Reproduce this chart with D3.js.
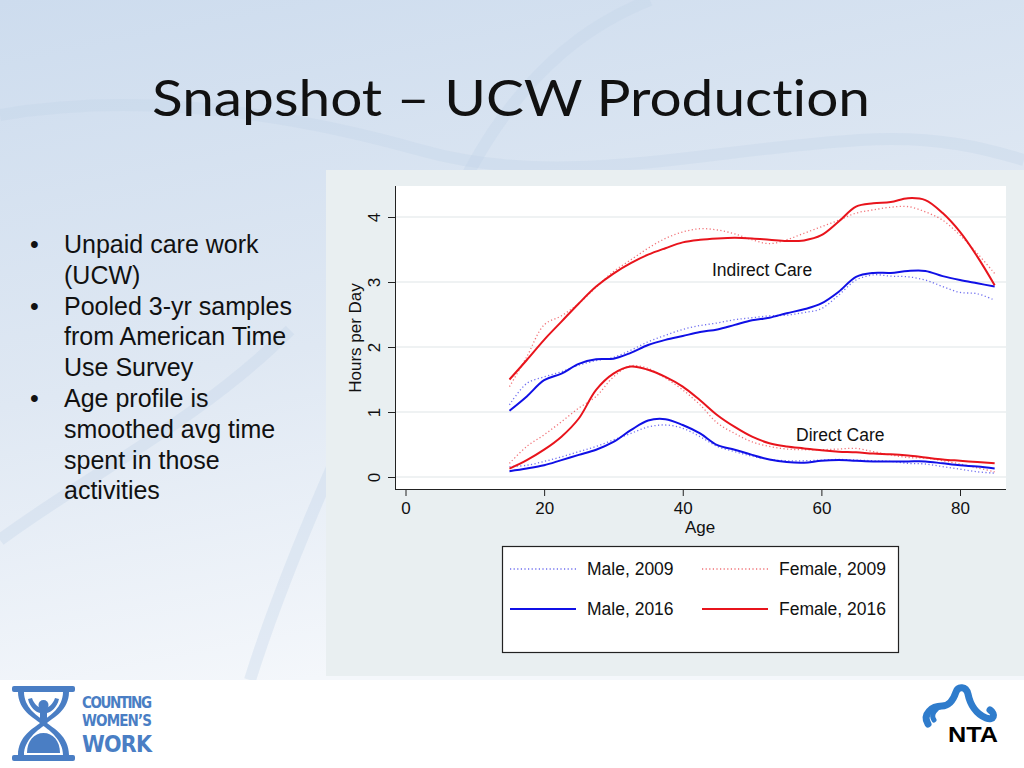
<!DOCTYPE html>
<html>
<head>
<meta charset="utf-8">
<script src="https://cdn.jsdelivr.net/npm/d3@7"></script>
<style>
  html, body { margin: 0; padding: 0; background: #fff; }
  svg { display: block; }
</style>
</head>
<body>
<svg id="slide" width="1024" height="768"></svg>
<script>
// Ages shared by every series (2.5-year steps)
const ages = [15, 17.5, 20, 22.5, 25, 27.5, 30, 32.5, 35, 37.5, 40, 42.5, 45, 47.5,
  50, 52.5, 55, 57.5, 60, 62.5, 65, 67.5, 70, 72.5, 75, 77.5, 80, 82.5, 85];

// Indirect care, hours per day
const femaleIndirect2016 = [1.50, 1.80, 2.11, 2.39, 2.67, 2.93, 3.13, 3.29, 3.42, 3.52, 3.61, 3.65, 3.67, 3.68,
  3.67, 3.65, 3.63, 3.64, 3.72, 3.93, 4.16, 4.21, 4.23, 4.29, 4.26, 4.06, 3.77, 3.39, 2.95];
const femaleIndirect2009 = [1.39, 1.85, 2.34, 2.48, 2.67, 2.92, 3.16, 3.34, 3.52, 3.67, 3.77, 3.82, 3.80, 3.74,
  3.65, 3.59, 3.65, 3.75, 3.85, 3.95, 4.06, 4.11, 4.15, 4.16, 4.08, 3.95, 3.72, 3.44, 3.13];
const maleIndirect2016 = [1.02, 1.24, 1.49, 1.59, 1.74, 1.81, 1.82, 1.91, 2.03, 2.11, 2.17, 2.23, 2.27, 2.34,
  2.41, 2.45, 2.52, 2.58, 2.67, 2.85, 3.08, 3.14, 3.14, 3.17, 3.17, 3.09, 3.03, 2.98, 2.93];
const maleIndirect2009 = [1.11, 1.44, 1.54, 1.62, 1.72, 1.79, 1.84, 1.95, 2.08, 2.18, 2.27, 2.33, 2.37, 2.42,
  2.45, 2.48, 2.49, 2.53, 2.59, 2.80, 3.03, 3.11, 3.09, 3.08, 3.03, 2.93, 2.84, 2.82, 2.72];

// Direct care, hours per day
const femaleDirect2016 = [0.13, 0.26, 0.42, 0.62, 0.90, 1.34, 1.59, 1.70, 1.65, 1.54, 1.39, 1.18, 0.95, 0.77,
  0.62, 0.52, 0.47, 0.44, 0.41, 0.39, 0.38, 0.36, 0.35, 0.33, 0.30, 0.27, 0.25, 0.23, 0.21];
const femaleDirect2009 = [0.21, 0.47, 0.65, 0.85, 1.06, 1.24, 1.54, 1.71, 1.67, 1.52, 1.34, 1.11, 0.83, 0.67,
  0.54, 0.47, 0.43, 0.42, 0.42, 0.43, 0.44, 0.39, 0.34, 0.30, 0.29, 0.25, 0.20, 0.14, 0.08];
const maleDirect2016 = [0.09, 0.13, 0.18, 0.26, 0.34, 0.42, 0.54, 0.72, 0.87, 0.89, 0.80, 0.67, 0.49, 0.42,
  0.34, 0.27, 0.23, 0.22, 0.25, 0.26, 0.25, 0.24, 0.24, 0.24, 0.24, 0.21, 0.18, 0.16, 0.13];
const maleDirect2009 = [0.16, 0.18, 0.24, 0.31, 0.39, 0.47, 0.57, 0.67, 0.77, 0.80, 0.75, 0.62, 0.47, 0.39,
  0.32, 0.27, 0.25, 0.25, 0.26, 0.27, 0.26, 0.25, 0.24, 0.21, 0.20, 0.16, 0.12, 0.08, 0.06];

const xTicks = [0, 20, 40, 60, 80];
const yTicks = [0, 1, 2, 3, 4];
const bullets = [
  ['Unpaid care work', '(UCW)'],
  ['Pooled 3-yr samples', 'from American Time', 'Use Survey'],
  ['Age profile is', 'smoothed avg time', 'spent in those', 'activities']
];

const MALE_COLOR = '#1010e6';
const FEMALE_COLOR = '#e8141c';
const CHART_FONT = '"Liberation Sans", Arial, sans-serif';

const series = [
  { name: 'Male, 2009', color: MALE_COLOR, dotted: true, sets: [maleIndirect2009, maleDirect2009] },
  { name: 'Female, 2009', color: FEMALE_COLOR, dotted: true, sets: [femaleIndirect2009, femaleDirect2009] },
  { name: 'Male, 2016', color: MALE_COLOR, dotted: false, sets: [maleIndirect2016, maleDirect2016] },
  { name: 'Female, 2016', color: FEMALE_COLOR, dotted: false, sets: [femaleIndirect2016, femaleDirect2016] }
];

const svg = d3.select('#slide');

// Slide background
const defs = svg.append('defs');
const bg = defs.append('linearGradient')
  .attr('id', 'bg').attr('x1', 0).attr('y1', 0).attr('x2', 0.3).attr('y2', 1);
bg.append('stop').attr('offset', '0%').attr('stop-color', '#cddcee');
bg.append('stop').attr('offset', '55%').attr('stop-color', '#dfe8f3');
bg.append('stop').attr('offset', '100%').attr('stop-color', '#f4f7fb');

svg.append('rect').attr('width', 1024).attr('height', 680).attr('fill', 'url(#bg)');

// faint swooshes in the backdrop
const swooshes = [
  'M0,115 C120,95 260,105 420,150 C560,190 700,150 860,140 C940,135 990,150 1024,160',
  'M250,680 C300,520 400,320 470,170 C530,60 600,20 650,0',
  'M0,540 C80,480 200,420 290,330'
];
svg.append('g')
  .selectAll('path')
  .data(swooshes)
  .join('path')
    .attr('d', d => d)
    .attr('fill', 'none')
    .attr('stroke', '#c4d5e8')
    .attr('stroke-width', 12)
    .attr('opacity', 0.35);

svg.append('rect').attr('y', 680).attr('width', 1024).attr('height', 88).attr('fill', '#ffffff');

// Title
svg.append('text')
  .attr('x', 511).attr('y', 116)
  .attr('text-anchor', 'middle')
  .attr('font-family', 'Lato, "Open Sans", sans-serif')
  .attr('font-size', 50)
  .attr('fill', '#111')
  .attr('textLength', 718)
  .attr('lengthAdjust', 'spacingAndGlyphs')
  .style('font-variant-ligatures', 'none')
  .text('Snapshot \u2013 UCW Production');

// Bullets
const bulletG = svg.append('g')
  .attr('font-family', CHART_FONT)
  .attr('font-size', 25)
  .attr('fill', '#111');
let line = 0;
bullets.forEach((rows) => {
  bulletG.append('text')
    .attr('x', 30).attr('y', 253 + line * 30.8)
    .text('\u2022');
  rows.forEach((row) => {
    bulletG.append('text')
      .attr('x', 64).attr('y', 253 + line * 30.8)
      .text(row);
    line += 1;
  });
});

// Chart panel
svg.append('rect')
  .attr('x', 326).attr('y', 170)
  .attr('width', 698).attr('height', 506)
  .attr('fill', '#e9eff1');

const plot = { left: 395, right: 1006, top: 186, bottom: 489 };
svg.append('rect')
  .attr('x', plot.left).attr('y', plot.top)
  .attr('width', plot.right - plot.left).attr('height', plot.bottom - plot.top)
  .attr('fill', '#ffffff');

const x = d3.scaleLinear().domain([0, 80]).range([405.5, 960]);
const y = d3.scaleLinear().domain([0, 4]).range([477, 217]);

// Gridlines
svg.append('g')
  .selectAll('line')
  .data(yTicks)
  .join('line')
    .attr('x1', plot.left).attr('x2', plot.right)
    .attr('y1', d => y(d)).attr('y2', d => y(d))
    .attr('stroke', '#eaeeef')
    .attr('stroke-width', 1.5);

// Y axis
const yAxis = svg.append('g')
  .attr('transform', `translate(${plot.left},0)`)
  .call(d3.axisLeft(y).tickValues(yTicks).tickFormat(d3.format('d')).tickSize(7).tickSizeOuter(0));
yAxis.select('.domain').attr('d', `M0.5,${plot.top}V${plot.bottom}`).attr('stroke', '#222');
yAxis.selectAll('.tick line').attr('stroke', '#222');
yAxis.selectAll('.tick text')
  .attr('font-family', CHART_FONT)
  .attr('font-size', 17)
  .attr('fill', '#111')
  .attr('text-anchor', 'middle')
  .attr('dy', null)
  .attr('x', 0)
  .attr('transform', 'translate(-21,0) rotate(-90)')
  .attr('y', 6);

// X axis
const xAxis = svg.append('g')
  .attr('transform', `translate(0,${plot.bottom})`)
  .call(d3.axisBottom(x).tickValues(xTicks).tickSize(7).tickPadding(6).tickSizeOuter(0));
xAxis.select('.domain').attr('d', `M${plot.left},0.5H${plot.right}`).attr('stroke', '#222');
xAxis.selectAll('.tick line').attr('stroke', '#222');
xAxis.selectAll('.tick text')
  .attr('font-family', CHART_FONT)
  .attr('font-size', 17)
  .attr('fill', '#111');

// Axis titles
svg.append('text')
  .attr('transform', 'translate(361,338) rotate(-90)')
  .attr('text-anchor', 'middle')
  .attr('font-family', CHART_FONT)
  .attr('font-size', 17)
  .attr('fill', '#111')
  .text('Hours per Day');

svg.append('text')
  .attr('x', 700).attr('y', 533)
  .attr('text-anchor', 'middle')
  .attr('font-family', CHART_FONT)
  .attr('font-size', 17)
  .attr('fill', '#111')
  .text('Age');

// Lines
const lineGen = d3.line()
  .x(d => x(d[0]))
  .y(d => y(d[1]))
  .curve(d3.curveCatmullRom.alpha(0.5));

const lineG = svg.append('g').attr('fill', 'none');
// dotted series first so the solid ones sit on top
series.forEach((s) => {
  s.sets.forEach((values) => {
    lineG.append('path')
      .datum(ages.map((a, i) => [a, values[i]]))
      .attr('d', lineGen)
      .attr('stroke', s.color)
      .attr('stroke-width', s.dotted ? 1.3 : 2)
      .attr('stroke-dasharray', s.dotted ? '1.2,2.4' : null)
      .attr('opacity', s.dotted ? 0.6 : 1);
  });
});

// In-plot labels
const labelG = svg.append('g')
  .attr('font-family', CHART_FONT)
  .attr('font-size', 17.5)
  .attr('fill', '#111');
labelG.append('text').attr('x', 712).attr('y', 276).text('Indirect Care');
labelG.append('text').attr('x', 796).attr('y', 441).text('Direct Care');

// Legend
svg.append('rect')
  .attr('x', 502.5).attr('y', 546.5)
  .attr('width', 396).attr('height', 106)
  .attr('fill', '#ffffff')
  .attr('stroke', '#222')
  .attr('stroke-width', 1.2);

const legendPos = [[510, 569], [702, 569], [510, 609], [702, 609]];
const legend = svg.append('g')
  .selectAll('g')
  .data(series)
  .join('g')
    .attr('transform', (d, i) => `translate(${legendPos[i][0]},${legendPos[i][1]})`);
legend.append('line')
  .attr('x1', 0).attr('x2', 66)
  .attr('stroke', d => d.color)
  .attr('stroke-width', d => (d.dotted ? 1.3 : 2))
  .attr('stroke-dasharray', d => (d.dotted ? '1.2,2.4' : null))
  .attr('opacity', d => (d.dotted ? 0.6 : 1));
legend.append('text')
  .attr('x', 77).attr('y', 6)
  .attr('font-family', CHART_FONT)
  .attr('font-size', 17.5)
  .attr('fill', '#111')
  .text(d => d.name);

// Counting Women's Work logo
const cww = svg.append('g').attr('transform', 'translate(12,686)').attr('fill', '#4a7ec4');
cww.append('rect').attr('x', 0).attr('y', 0).attr('width', 63).attr('height', 6).attr('rx', 2);
cww.append('rect').attr('x', 0).attr('y', 69).attr('width', 63).attr('height', 6).attr('rx', 2);
cww.append('path')
  .attr('d', 'M6,6 C6,24 22,32 28,37 C22,42 6,50 6,69 L12,69 C12,54 26,44 31.5,40 C37,44 51,54 51,69 L57,69 C57,50 41,42 35,37 C41,32 57,24 57,6 L51,6 C51,21 38,30 31.5,34 C25,30 12,21 12,6 Z');
cww.append('path')
  .attr('d', 'M15,67 C15,55 22,47 31.5,47 C41,47 48,55 48,67 Z');
cww.append('circle').attr('cx', 31.5).attr('cy', 19).attr('r', 5);
cww.append('path')
  .attr('d', 'M16,13 C18,22 24,26 28,27 L28,34 L35,34 L35,27 C39,26 45,22 47,13 L43,12 C41,18 37,22 31.5,22 C26,22 22,18 20,12 Z');
const cwwText = svg.append('g')
  .attr('font-family', '"DejaVu Sans Condensed", "Liberation Sans Narrow", sans-serif')
  .attr('font-weight', 'bold')
  .attr('fill', '#4a7ec4');
cwwText.append('text').attr('x', 82).attr('y', 708).attr('font-size', 15).attr('textLength', 70).text('COUNTING');
cwwText.append('text').attr('x', 82).attr('y', 726).attr('font-size', 15).attr('textLength', 70).text('WOMEN\u2019S');
cwwText.append('text').attr('x', 82).attr('y', 752).attr('font-size', 23).attr('textLength', 70).text('WORK');

// NTA logo
const nta = svg.append('g').attr('transform', 'translate(920,684)');
nta.append('path')
  .attr('d', 'M8,40 C2,30 12,22 22,22 C30,22 34,14 36,8 C38,2 46,2 48,10 C50,20 56,30 66,34 C74,37 76,30 70,26')
  .attr('fill', 'none')
  .attr('stroke', '#2f7ccc')
  .attr('stroke-width', 7)
  .attr('stroke-linecap', 'round');
nta.append('path')
  .attr('d', 'M22,22 C16,24 10,30 14,36')
  .attr('fill', 'none')
  .attr('stroke', '#2f7ccc')
  .attr('stroke-width', 5)
  .attr('stroke-linecap', 'round');
nta.append('text')
  .attr('x', 28).attr('y', 58)
  .attr('font-family', '"Liberation Sans", Arial, sans-serif')
  .attr('font-weight', 'bold')
  .attr('font-size', 22)
  .attr('fill', '#000')
  .attr('textLength', 50)
  .attr('lengthAdjust', 'spacingAndGlyphs')
  .text('NTA');
</script>
</body>
</html>
